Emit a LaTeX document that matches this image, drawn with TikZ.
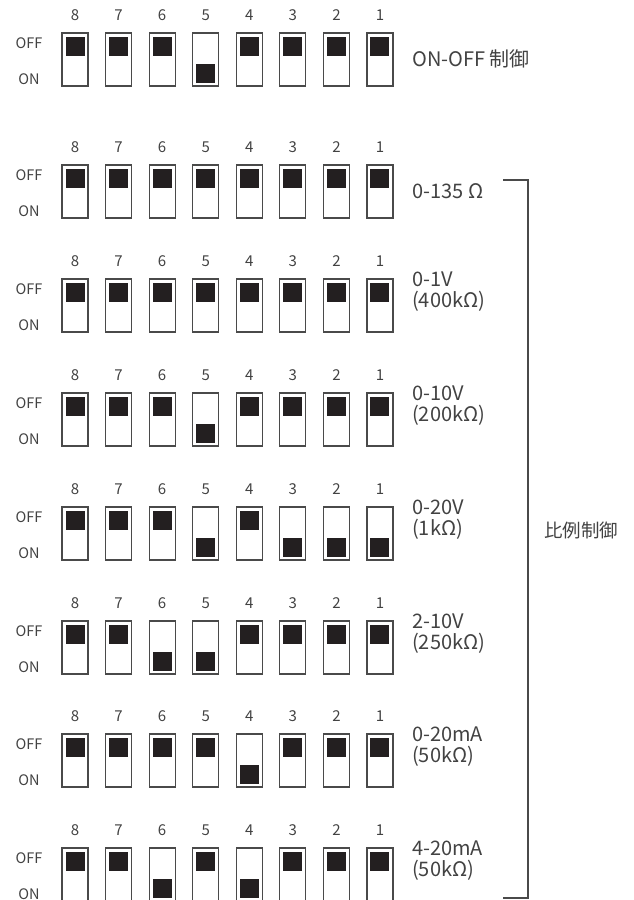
\documentclass[tikz,border=0pt]{standalone}
\usepackage{fontspec}
\setmainfont{Noto Sans CJK JP}
\definecolor{inkgray}{HTML}{424242}
\definecolor{knobblack}{HTML}{231F20}
\definecolor{framegray}{HTML}{4A4A4A}
\tikzset{
  switchbox/.style={draw=framegray, line width=1.1pt, minimum width=26pt, minimum height=53pt, inner sep=0pt},
  knob/.style={fill=knobblack, minimum size=19pt, inner sep=0pt},
  numlabel/.style={text=inkgray, font=\fontsize{15}{15}\selectfont, inner sep=0pt},
  statelabel/.style={text=inkgray, font=\fontsize{14.5}{14.5}\selectfont, inner sep=0pt},
  rangelabel/.style={text=inkgray, font=\fontsize{20}{20.5}\selectfont, anchor=base west, align=left, inner sep=0pt},
}
\begin{document}
\begin{tikzpicture}[x=1pt, y=-1pt]
  \useasboundingbox (0,0) rectangle (633,900);
  % one row of eight switches per setting, 1 = ON
  \foreach \r/\t/\pat in {1/33/{0,0,0,1,0,0,0,0}, 2/165/{0,0,0,0,0,0,0,0},
      3/279/{0,0,0,0,0,0,0,0}, 4/393/{0,0,0,1,0,0,0,0}, 5/507/{0,0,0,1,0,1,1,1},
      6/621/{0,0,1,1,0,0,0,0}, 7/734/{0,0,0,0,1,0,0,0}, 8/848/{0,0,1,0,1,0,0,0}} {
    \node[statelabel] (off\r) at (29,{\t+10}) {OFF};
    \node[statelabel] (on\r) at (29,{\t+46}) {ON};
    \foreach \s [count=\c] in \pat {
      \pgfmathtruncatemacro{\n}{9-\c}
      \node[switchbox] (sw\r-\n) at ({75+43.57*(\c-1)},{\t+26.5}) {};
      \node[numlabel, yshift=17pt] (num\r-\n) at (sw\r-\n.north) {\n};
      \ifnum\s=1
        \node[knob, anchor=south] (kn\r-\n) at ([yshift=3pt]sw\r-\n.south) {};
      \else
        \node[knob, anchor=north] (kn\r-\n) at ([yshift=-4pt]sw\r-\n.north) {};
      \fi
    }
  }
  % settings
  \node[rangelabel] (mode1) at (412,66) {ON-OFF 制御};
  \node[rangelabel] (mode2) at (412,198) {0-135 Ω};
  \node[rangelabel] (mode3) at (412,307) {0-1V\\(400kΩ)};
  \node[rangelabel] (mode4) at (412,421) {0-10V\\(200kΩ)};
  \node[rangelabel] (mode5) at (412,535) {0-20V\\(1kΩ)};
  \node[rangelabel] (mode6) at (412,649) {2-10V\\(250kΩ)};
  \node[rangelabel] (mode7) at (412,762) {0-20mA\\(50kΩ)};
  \node[rangelabel] (mode8) at (412,876) {4-20mA\\(50kΩ)};
  % bracket
  \coordinate (brtop) at (503,180);
  \coordinate (brbot) at (503,898);
  \draw[framegray, line width=1.1pt] (brtop) -- ++(25,0) |- (brbot);
  \node[text=inkgray, font=\fontsize{18.5}{18.5}\selectfont] (prop) at (581,530) {比例制御};
\end{tikzpicture}
\end{document}
